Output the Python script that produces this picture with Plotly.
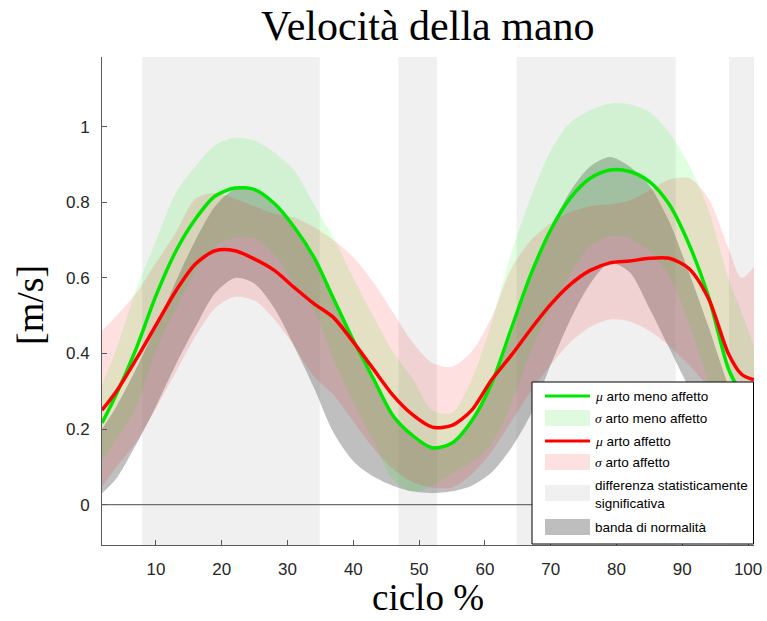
import plotly.graph_objects as go

# ---------------- data ----------------
ciclo = [1.8, 4, 7, 10, 13, 16, 19, 22, 25, 28, 31, 34, 37, 40, 43, 46, 49, 52, 55,
         58, 61, 64, 67, 70, 73, 76, 79, 82, 85, 88, 91, 94, 97, 99, 100.9]

mu_meno_affetto = [0.216, 0.293, 0.413, 0.553, 0.67, 0.756, 0.817, 0.838, 0.834, 0.797,
                   0.735, 0.655, 0.545, 0.435, 0.335, 0.236, 0.183, 0.15, 0.163, 0.222,
                   0.32, 0.465, 0.61, 0.727, 0.812, 0.864, 0.886, 0.882, 0.855, 0.795,
                   0.69, 0.55, 0.36, 0.29, 0.22]
sd_meno_affetto = [0.10, 0.12, 0.157, 0.145, 0.155, 0.14, 0.135, 0.133, 0.13, 0.135,
                   0.15, 0.14, 0.16, 0.165, 0.165, 0.17, 0.15, 0.10, 0.08, 0.11,
                   0.16, 0.2, 0.205, 0.21, 0.2, 0.18, 0.176, 0.178, 0.185, 0.19,
                   0.21, 0.23, 0.24, 0.22, 0.2]

mu_affetto = [0.25, 0.30, 0.385, 0.475, 0.565, 0.637, 0.672, 0.672, 0.65, 0.62,
              0.575, 0.532, 0.495, 0.43, 0.36, 0.29, 0.238, 0.205, 0.21, 0.25,
              0.33, 0.395, 0.465, 0.53, 0.583, 0.62, 0.64, 0.645, 0.652, 0.652,
              0.625, 0.545, 0.40, 0.345, 0.33]
sup_affetto = [0.46, 0.50, 0.56, 0.64, 0.72, 0.81, 0.825, 0.81, 0.79, 0.77,
               0.76, 0.735, 0.70, 0.655, 0.59, 0.51, 0.43, 0.375, 0.365, 0.405,
               0.495, 0.625, 0.70, 0.745, 0.775, 0.79, 0.795, 0.805, 0.832, 0.86,
               0.865, 0.81, 0.68, 0.60, 0.63]
inf_affetto = [0.047, 0.10, 0.165, 0.255, 0.35, 0.445, 0.52, 0.55, 0.54, 0.49,
               0.42, 0.34, 0.29, 0.22, 0.15, 0.095, 0.06, 0.045, 0.045, 0.08,
               0.14, 0.22, 0.30, 0.37, 0.43, 0.47, 0.49, 0.485, 0.46, 0.42,
               0.37, 0.31, 0.25, 0.21, 0.18]

norm_sup = [0.20, 0.26, 0.36, 0.47, 0.59, 0.70, 0.79, 0.835, 0.83, 0.797,
            0.735, 0.655, 0.545, 0.44, 0.335, 0.24, 0.185, 0.155, 0.165, 0.22,
            0.31, 0.45, 0.60, 0.73, 0.83, 0.895, 0.92, 0.895, 0.845, 0.75,
            0.615, 0.47, 0.315, 0.23, 0.16]
norm_inf = [0.03, 0.07, 0.16, 0.26, 0.37, 0.47, 0.56, 0.60, 0.585, 0.52,
            0.42, 0.31, 0.19, 0.115, 0.075, 0.05, 0.035, 0.03, 0.035, 0.05,
            0.085, 0.15, 0.24, 0.37, 0.49, 0.585, 0.64, 0.615, 0.52, 0.415,
            0.31, 0.22, 0.14, 0.10, 0.07]

# intervals of statistically significant difference (start, end)
sig_start = [7.9, 46.85, 64.8, 97.1]
sig_end = [34.9, 52.7, 89.0, 100.9]

x_ticks = [10, 20, 30, 40, 50, 60, 70, 80, 90, 100]
y_ticks = [0, 0.2, 0.4, 0.6, 0.8, 1]
y_tick_text = ["0", "0.2", "0.4", "0.6", "0.8", "1"]
x_range = [1.8, 100.9]
y_range = [-0.107, 1.185]

legend_labels = ["\u03bc arto meno affetto", "\u03c3 arto meno affetto",
                 "\u03bc arto affetto", "\u03c3 arto affetto",
                 "differenza statisticamente<br>significativa", "banda di normalità"]

# ---------------- styles ----------------
C_GREEN = "rgb(0,230,0)"
C_RED = "rgb(255,0,0)"
F_GREEN = "rgba(0,255,0,0.12)"
F_RED = "rgba(255,0,0,0.12)"
F_NORM = "rgba(128,128,128,0.5)"
F_SIG = "rgb(240,240,240)"
SANS = "Liberation Sans, Arial, sans-serif"
SERIF = "Liberation Serif, Times New Roman, serif"

# plot-area geometry in pixels
L, R, T, B = 102, 754, 57, 545
W, H = 767, 621


def px(xp):
    return (xp - L) / (R - L)


def py(yp):
    return (B - yp) / (B - T)


fig = go.Figure()


def band(lower, upper, color):
    fig.add_trace(go.Scatter(x=ciclo, y=lower, mode="lines",
                             line=dict(width=0, shape="spline", smoothing=0.8),
                             hoverinfo="skip", showlegend=False))
    fig.add_trace(go.Scatter(x=ciclo, y=upper, mode="lines", fill="tonexty",
                             fillcolor=color,
                             line=dict(width=0, shape="spline", smoothing=0.8),
                             hoverinfo="skip", showlegend=False))


band(norm_inf, norm_sup, F_NORM)
band([m - s for m, s in zip(mu_meno_affetto, sd_meno_affetto)],
     [m + s for m, s in zip(mu_meno_affetto, sd_meno_affetto)], F_GREEN)
band(inf_affetto, sup_affetto, F_RED)

# zero reference line
fig.add_trace(go.Scatter(x=x_range, y=[0, 0], mode="lines",
                         line=dict(color="rgb(110,110,110)", width=1.3),
                         hoverinfo="skip", showlegend=False))

fig.add_trace(go.Scatter(x=ciclo, y=mu_meno_affetto, mode="lines",
                         line=dict(color=C_GREEN, width=3.5, shape="spline", smoothing=0.8),
                         showlegend=False))
fig.add_trace(go.Scatter(x=ciclo, y=mu_affetto, mode="lines",
                         line=dict(color=C_RED, width=3.5, shape="spline", smoothing=0.8),
                         showlegend=False))

shapes = []
for s, e in zip(sig_start, sig_end):
    shapes.append(dict(type="rect", xref="x", yref="paper", x0=s, x1=e, y0=0, y1=1,
                       fillcolor=F_SIG, line=dict(width=0), layer="below"))

# ---------------- custom legend (MATLAB style) ----------------
shapes.append(dict(type="rect", xref="paper", yref="paper",
                   x0=px(532), x1=px(753.5), y0=py(544), y1=py(382),
                   fillcolor="white", line=dict(color="black", width=1), layer="above"))
sx0, sx1 = 545, 590
rows = [("line", C_GREEN, 396), ("patch", "rgb(224,250,224)", 418),
        ("line", C_RED, 441), ("patch", "rgb(253,224,224)", 462),
        ("patch", F_SIG, 493), ("patch", "rgb(190,190,190)", 527)]
for kind, col, yc in rows:
    if kind == "line":
        shapes.append(dict(type="line", xref="paper", yref="paper",
                           x0=px(sx0), x1=px(sx1), y0=py(yc), y1=py(yc),
                           line=dict(color=col, width=3), layer="above"))
    else:
        shapes.append(dict(type="rect", xref="paper", yref="paper",
                           x0=px(sx0), x1=px(sx1), y0=py(yc + 8), y1=py(yc - 8),
                           fillcolor=col, line=dict(width=0), layer="above"))

annotations = []
text_y = [396, 418, 441, 462, 494, 527]
for lab, yc in zip(legend_labels, text_y):
    if lab[0] in "\u03bc\u03c3":
        txt = ('<span style="font-family:Liberation Serif"><i>' + lab[0] + '</i></span>'
               + lab[1:])
    else:
        txt = lab
    annotations.append(dict(xref="paper", yref="paper", x=px(593), y=py(yc),
                            xanchor="left", yanchor="middle", text=txt, showarrow=False,
                            align="left", font=dict(family=SANS, size=13.5, color="black")))

# titles (LaTeX-like serif)
annotations.append(dict(xref="paper", yref="paper", x=px(428), y=py(26), text="Velocità della mano",
                        showarrow=False, xanchor="center", yanchor="middle",
                        font=dict(family=SERIF, size=42, color="black")))
annotations.append(dict(xref="paper", yref="paper", x=px(30), y=py(305), text="[m/s]",
                        textangle=-90, showarrow=False, xanchor="center", yanchor="middle",
                        font=dict(family=SERIF, size=38, color="black")))
annotations.append(dict(xref="paper", yref="paper", x=px(428), y=py(597), text="ciclo %",
                        showarrow=False, xanchor="center", yanchor="middle",
                        font=dict(family=SERIF, size=37, color="black")))

fig.update_layout(
    width=W, height=H,
    margin=dict(l=L, r=W - R, t=T, b=H - B, pad=0),
    paper_bgcolor="white", plot_bgcolor="white",
    showlegend=False,
    shapes=shapes, annotations=annotations,
    xaxis=dict(range=x_range, tickvals=x_ticks, ticks="inside", ticklen=5,
               tickcolor="rgb(90,90,90)", showline=True, linecolor="rgb(90,90,90)",
               linewidth=1, showgrid=False, zeroline=False, ticklabelstandoff=9,
               automargin=False,
               tickfont=dict(family=SANS, size=17, color="rgb(38,38,38)")),
    yaxis=dict(range=y_range, tickvals=y_ticks, ticktext=y_tick_text, ticks="inside",
               ticklen=5, tickcolor="rgb(90,90,90)", showline=True,
               linecolor="rgb(90,90,90)", linewidth=1, showgrid=False, zeroline=False,
               ticklabelstandoff=8, automargin=False,
               tickfont=dict(family=SANS, size=17, color="rgb(38,38,38)")),
)

fig.write_html("out.html")
